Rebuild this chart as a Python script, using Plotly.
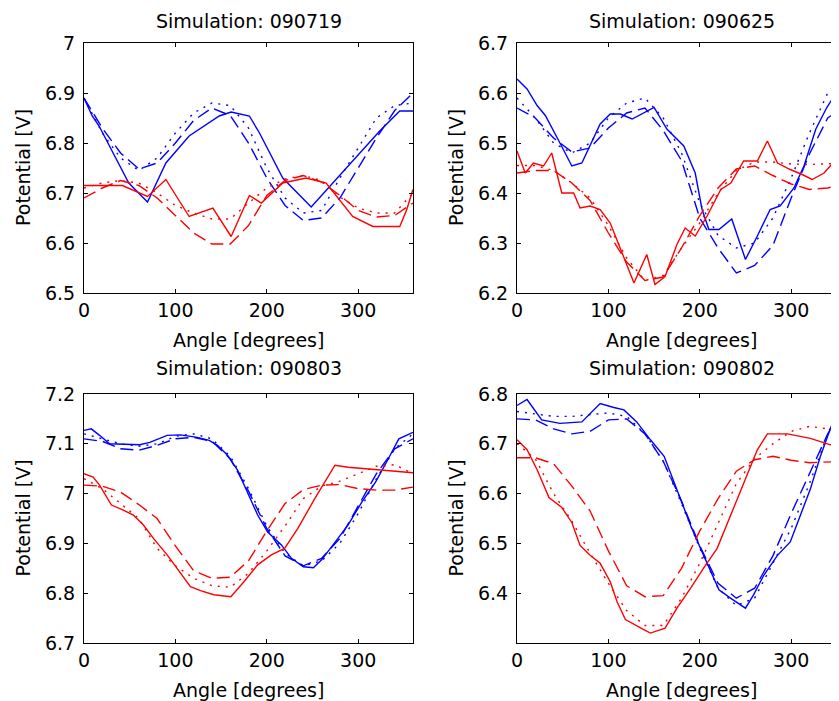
import plotly.graph_objects as go

# ---------------- data ----------------
TITLES = ["Simulation: 090719", "Simulation: 090625", "Simulation: 090803", "Simulation: 090802"]
ANGLES = [0, 20, 40, 60, 80, 100, 120, 140, 160, 180, 200, 220, 240, 260, 280, 300, 320, 340, 360]

# Panel 1: 090719
p1_blue_solid_x = [0, 9, 16.5, 49, 69.5, 89.6, 115, 148, 161, 181, 192, 217.5, 248.6, 272, 305, 323.6, 345.5, 360]
p1_blue_solid_y = [6.89, 6.854, 6.834, 6.72, 6.682, 6.76, 6.814, 6.854, 6.862, 6.854, 6.82, 6.73, 6.672, 6.72, 6.787, 6.824, 6.864, 6.864]
p1_blue_dash = [6.89, 6.83, 6.78, 6.748, 6.76, 6.80, 6.845, 6.87, 6.855, 6.80, 6.73, 6.675, 6.645, 6.65, 6.69, 6.75, 6.81, 6.865, 6.90]
p1_blue_dot = [6.89, 6.82, 6.77, 6.745, 6.77, 6.82, 6.86, 6.88, 6.875, 6.83, 6.75, 6.69, 6.66, 6.665, 6.73, 6.79, 6.85, 6.875, 6.88]
p1_red_solid_x = [0, 42, 69.5, 89.6, 115, 141, 161, 181, 194, 217.5, 243, 265, 294, 316, 345.5, 353, 360]
p1_red_solid_y = [6.715, 6.715, 6.693, 6.727, 6.653, 6.67, 6.613, 6.695, 6.68, 6.72, 6.73, 6.72, 6.653, 6.633, 6.633, 6.666, 6.707]
p1_red_dash = [6.69, 6.71, 6.725, 6.715, 6.69, 6.655, 6.62, 6.598, 6.598, 6.635, 6.695, 6.725, 6.735, 6.722, 6.695, 6.665, 6.652, 6.655, 6.68]
p1_red_dot = [6.71, 6.72, 6.725, 6.72, 6.70, 6.675, 6.66, 6.648, 6.648, 6.68, 6.71, 6.728, 6.735, 6.725, 6.692, 6.67, 6.66, 6.66, 6.70]

# Panel 2: 090625
p2_blue_solid_x = [0, 11, 22, 31, 47, 60, 71, 91, 102, 113, 126, 150, 164, 182.5, 195, 202.5, 210, 221, 235, 250, 263, 277, 288, 303, 314, 327, 339, 352, 360]
p2_blue_solid_y = [6.628, 6.608, 6.575, 6.555, 6.50, 6.454, 6.46, 6.538, 6.558, 6.558, 6.548, 6.571, 6.528, 6.494, 6.44, 6.367, 6.327, 6.327, 6.348, 6.267, 6.314, 6.367, 6.374, 6.41, 6.454, 6.528, 6.571, 6.608, 6.635]
p2_blue_dash = [6.57, 6.55, 6.51, 6.482, 6.49, 6.53, 6.56, 6.57, 6.525, 6.465, 6.35, 6.29, 6.24, 6.255, 6.295, 6.39, 6.478, 6.55, 6.575]
p2_blue_dot = [6.59, 6.55, 6.50, 6.48, 6.50, 6.55, 6.58, 6.59, 6.55, 6.48, 6.38, 6.315, 6.29, 6.30, 6.35, 6.43, 6.52, 6.60, 6.64]
p2_red_solid_x = [0, 9, 18, 29, 38, 49, 62, 69, 80, 91, 102, 115, 128, 142, 151, 162, 175, 184, 195, 208, 223, 234, 248, 263, 274, 285, 299, 312, 323, 336, 352, 360]
p2_red_solid_y = [6.484, 6.44, 6.46, 6.454, 6.48, 6.40, 6.40, 6.37, 6.374, 6.367, 6.34, 6.28, 6.22, 6.277, 6.217, 6.233, 6.297, 6.33, 6.314, 6.354, 6.407, 6.42, 6.464, 6.464, 6.504, 6.46, 6.447, 6.437, 6.427, 6.44, 6.474, 6.49]
p2_red_dash = [6.44, 6.445, 6.445, 6.42, 6.385, 6.32, 6.262, 6.225, 6.232, 6.29, 6.355, 6.41, 6.448, 6.454, 6.435, 6.418, 6.407, 6.41, 6.42]
p2_red_dot = [6.455, 6.455, 6.445, 6.42, 6.39, 6.335, 6.27, 6.225, 6.235, 6.29, 6.34, 6.40, 6.445, 6.462, 6.462, 6.458, 6.457, 6.458, 6.46]

# Panel 3: 090803
p3_blue_solid_x = [0, 8, 17, 28, 61, 72, 91, 105.5, 124, 137, 146, 157, 168, 179, 190, 201, 216, 227, 240, 251, 260, 275, 289, 304, 319, 333, 344.5, 354, 360]
p3_blue_solid_y = [7.127, 7.13, 7.117, 7.10, 7.098, 7.103, 7.117, 7.118, 7.113, 7.107, 7.097, 7.077, 7.047, 7.003, 6.957, 6.923, 6.897, 6.87, 6.853, 6.851, 6.867, 6.903, 6.937, 6.983, 7.023, 7.07, 7.11, 7.118, 7.123]
p3_blue_dash = [7.11, 7.105, 7.09, 7.087, 7.097, 7.11, 7.113, 7.105, 7.07, 7.005, 6.93, 6.875, 6.855, 6.87, 6.91, 6.975, 7.04, 7.09, 7.11]
p3_blue_dot = [7.12, 7.11, 7.10, 7.095, 7.10, 7.115, 7.12, 7.11, 7.075, 7.01, 6.935, 6.88, 6.855, 6.865, 6.90, 6.96, 7.03, 7.09, 7.12]
p3_red_solid_x = [0, 10, 17, 30, 43, 54, 65, 76, 91, 102, 116.5, 127.5, 142, 160.7, 175, 190, 205, 219.5, 234, 252.5, 274.6, 289, 326, 360]
p3_red_solid_y = [7.04, 7.033, 7.017, 6.977, 6.967, 6.957, 6.937, 6.91, 6.877, 6.85, 6.813, 6.805, 6.797, 6.793, 6.823, 6.857, 6.877, 6.89, 6.93, 6.99, 7.057, 7.053, 7.047, 7.042]
p3_red_dash = [7.017, 7.015, 7.003, 6.978, 6.95, 6.895, 6.845, 6.83, 6.832, 6.865, 6.925, 6.98, 7.008, 7.017, 7.018, 7.01, 7.007, 7.007, 7.013]
p3_red_dot = [7.03, 7.01, 6.98, 6.95, 6.89, 6.855, 6.83, 6.815, 6.812, 6.84, 6.885, 6.935, 6.99, 7.015, 7.025, 7.04, 7.055, 7.058, 7.04]

# Panel 4: 090802
p4_blue_solid_x = [0, 11, 27, 47, 71, 91, 106, 117, 131, 146, 161, 175, 190, 202.5, 212, 221, 233.6, 250, 259, 270, 285, 299, 310, 321, 332, 345, 352, 360]
p4_blue_solid_y = [6.777, 6.789, 6.748, 6.741, 6.744, 6.781, 6.773, 6.768, 6.744, 6.708, 6.675, 6.609, 6.536, 6.483, 6.443, 6.407, 6.39, 6.37, 6.397, 6.436, 6.476, 6.503, 6.556, 6.609, 6.675, 6.741, 6.758, 6.78]
p4_blue_dash = [6.75, 6.748, 6.73, 6.72, 6.725, 6.748, 6.75, 6.72, 6.665, 6.585, 6.495, 6.42, 6.39, 6.41, 6.475, 6.56, 6.64, 6.72, 6.78]
p4_blue_dot = [6.765, 6.76, 6.755, 6.755, 6.758, 6.762, 6.755, 6.72, 6.665, 6.58, 6.49, 6.41, 6.375, 6.39, 6.46, 6.53, 6.62, 6.72, 6.80]
p4_red_solid_x = [0, 11, 22, 35, 49, 60, 69, 80, 91, 102, 109.5, 118.6, 138.7, 146, 162, 175, 190, 204, 219, 233.6, 248, 263, 274, 296, 321, 343, 352, 360]
p4_red_solid_y = [6.708, 6.688, 6.648, 6.592, 6.572, 6.542, 6.496, 6.476, 6.46, 6.423, 6.383, 6.347, 6.327, 6.32, 6.33, 6.37, 6.41, 6.45, 6.49, 6.556, 6.622, 6.688, 6.72, 6.72, 6.711, 6.698, 6.701, 6.71]
p4_red_dash = [6.672, 6.672, 6.66, 6.615, 6.565, 6.485, 6.415, 6.393, 6.395, 6.45, 6.525, 6.59, 6.645, 6.668, 6.675, 6.667, 6.662, 6.664, 6.665]
p4_red_dot = [6.70, 6.67, 6.60, 6.545, 6.48, 6.42, 6.365, 6.335, 6.335, 6.39, 6.46, 6.54, 6.62, 6.67, 6.70, 6.725, 6.735, 6.73, 6.72]

Y_TICKS = [
    [6.5, 6.6, 6.7, 6.8, 6.9, 7.0],
    [6.2, 6.3, 6.4, 6.5, 6.6, 6.7],
    [6.7, 6.8, 6.9, 7.0, 7.1, 7.2],
    [6.3, 6.4, 6.5, 6.6, 6.7, 6.8],
]
Y_TICK_TEXT = [
    ["6.5", "6.6", "6.7", "6.8", "6.9", "7"],
    ["6.2", "6.3", "6.4", "6.5", "6.6", "6.7"],
    ["6.7", "6.8", "6.9", "7", "7.1", "7.2"],
    ["", "6.4", "6.5", "6.6", "6.7", "6.8"],
]
X_TICKS = [0, 100, 200, 300]
X_TICK_TEXT = ["0", "100", "200", "300"]
X_LABEL = "Angle [degrees]"
Y_LABEL = "Potential [V]"

# ---------------- layout helpers ----------------
OFF = 8                      # page body margin of the html document
W, H = 839, 701
FONT = "DejaVu Sans"
FS = 19
FS_T = 19
BLUE, RED = "#0000ff", "#ff0000"
LW = 1.4
DASH = "13px,6px"
DOT = "2px,6px"

# plot boxes in screen pixels (left, right, top, bottom)
boxes = [
    (84, 413, 43, 293),
    (517, 846, 43, 293),
    (84, 413, 394, 643),
    (517, 846, 394, 643),
]

panels = [
    (p1_blue_solid_x, p1_blue_solid_y, p1_blue_dash, p1_blue_dot, p1_red_solid_x, p1_red_solid_y, p1_red_dash, p1_red_dot),
    (p2_blue_solid_x, p2_blue_solid_y, p2_blue_dash, p2_blue_dot, p2_red_solid_x, p2_red_solid_y, p2_red_dash, p2_red_dot),
    (p3_blue_solid_x, p3_blue_solid_y, p3_blue_dash, p3_blue_dot, p3_red_solid_x, p3_red_solid_y, p3_red_dash, p3_red_dot),
    (p4_blue_solid_x, p4_blue_solid_y, p4_blue_dash, p4_blue_dot, p4_red_solid_x, p4_red_solid_y, p4_red_dash, p4_red_dot),
]


def px(v):
    return (v - OFF) / W


def py(v):
    return (H - (v - OFF)) / H


fig = go.Figure()
layout = dict(
    width=W, height=H,
    margin=dict(l=0, r=0, t=0, b=0, autoexpand=False),
    paper_bgcolor="white", plot_bgcolor="white",
    showlegend=False,
    font=dict(family=FONT, size=FS, color="black"),
    annotations=[],
)

for i, (box, pdata) in enumerate(zip(boxes, panels)):
    l, r, t, b = box
    sfx = "" if i == 0 else str(i + 1)
    xa, ya = "x" + sfx, "y" + sfx
    bsx, bsy, bda, bdo, rsx, rsy, rda, rdo = pdata
    traces = [
        (bsx, bsy, BLUE, "solid"),
        (ANGLES, bda, BLUE, DASH),
        (ANGLES, bdo, BLUE, DOT),
        (rsx, rsy, RED, "solid"),
        (ANGLES, rda, RED, DASH),
        (ANGLES, rdo, RED, DOT),
    ]
    for xs, ys, col, dash in traces:
        fig.add_trace(go.Scatter(x=xs, y=ys, mode="lines", xaxis=xa, yaxis=ya,
                                 line=dict(color=col, width=LW, dash=dash),
                                 hoverinfo="skip"))
    yt = Y_TICKS[i]
    layout["xaxis" + sfx] = dict(
        domain=[px(l), min(px(r), 1.0)], range=[0, 360], anchor=ya, automargin=False,
        tickvals=X_TICKS, ticktext=X_TICK_TEXT,
        ticks="inside", ticklen=4, tickcolor="black", tickwidth=1,
        showline=True, linecolor="black", linewidth=1.2, mirror="ticks",
        showgrid=False, zeroline=False, ticklabelstandoff=0,
        tickfont=dict(family=FONT, size=FS, color="black"),
    )
    layout["yaxis" + sfx] = dict(
        domain=[py(b), py(t)], range=[yt[0], yt[-1]], anchor=xa, automargin=False,
        tickvals=yt, ticktext=Y_TICK_TEXT[i],
        ticks="inside", ticklen=4, tickcolor="black", tickwidth=1,
        showline=True, linecolor="black", linewidth=1.2, mirror="ticks",
        showgrid=False, zeroline=False, ticklabelstandoff=4,
        tickfont=dict(family=FONT, size=FS, color="black"),
    )
    cx = px((l + r) / 2)
    if t < 100:
        title_ann = dict(text=TITLES[i], x=cx, y=1.0, xref="paper", yref="paper",
                         showarrow=False, xanchor="center", yanchor="top",
                         font=dict(family=FONT, size=FS_T, color="black"))
    else:
        title_ann = dict(text=TITLES[i], x=cx, y=py(t - 26), xref="paper", yref="paper",
                         showarrow=False, xanchor="center", yanchor="middle",
                         font=dict(family=FONT, size=FS_T, color="black"))
    layout["annotations"] += [
        title_ann,
        dict(text=X_LABEL, x=cx, y=py(b + 47), xref="paper", yref="paper",
             showarrow=False, xanchor="center", yanchor="middle",
             font=dict(family=FONT, size=FS, color="black")),
        dict(text=Y_LABEL, x=px(l - 61), y=py((t + b) / 2), xref="paper", yref="paper",
             showarrow=False, xanchor="center", yanchor="middle", textangle=-90,
             font=dict(family=FONT, size=FS, color="black")),
    ]

fig.update_layout(**layout)
fig.write_html("out.html")
